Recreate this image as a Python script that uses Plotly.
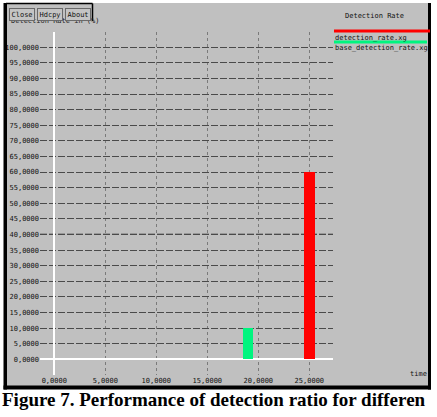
import plotly.graph_objects as go

# ---- data ----
series_names = ["detection_rate.xg", "base_detection_rate.xg"]
series_x = [[25], [19]]
series_y = [[60], [10]]
series_colors = ["#ff0000", "#00f57f"]
x_tick_vals = [0, 5, 10, 15, 20, 25]
x_tick_text = ["0,0000", "5,0000", "10,0000", "15,0000", "20,0000", "25,0000"]
y_tick_vals = [0, 5, 10, 15, 20, 25, 30, 35, 40, 45, 50, 55, 60, 65, 70, 75, 80, 85, 90, 95, 100]
y_tick_text = ["0,0000", "5,0000", "10,0000", "15,0000", "20,0000", "25,0000", "30,0000",
               "35,0000", "40,0000", "45,0000", "50,0000", "55,0000", "60,0000", "65,0000",
               "70,0000", "75,0000", "80,0000", "85,0000", "90,0000", "95,0000", "100,0000"]
chart_title = "Detection Rate"
y_title = "Detection Rate in (%)"
x_title = "time"
buttons = ["Close", "Hdcpy", "About"]
caption = "Figure 7. Performance of detection ratio for differen"

W, H = 437, 417
def X(p):
    return p / W
def Y(p):
    return 1 - p / H

MONO = "DejaVu Sans Mono"
bar_widths = [1.1, 1.05]

fig = go.Figure()
for name, xs, ys, col, wd in zip(series_names, series_x, series_y, series_colors, bar_widths):
    fig.add_trace(go.Bar(x=xs, y=ys, name=name, marker=dict(color=col, line=dict(width=0)),
                         width=wd, showlegend=False))

shapes = []
# grey window
shapes.append(dict(type="rect", xref="paper", yref="paper", x0=X(6), x1=X(429), y0=Y(387), y1=Y(3),
                   fillcolor="#c0c0c0", line=dict(width=0), layer="below"))
# darker line at 40
shapes.append(dict(type="line", xref="paper", yref="y", x0=X(40), x1=X(333), y0=40, y1=40,
                   line=dict(color="#222", width=1.3, dash="7px,2px"), layer="below"))
# black borders
for (a, b, c, d) in [(3.5, 7, 3, 389.5), (428, 431, 3, 389.5), (3.5, 431, 385.5, 389.5)]:
    shapes.append(dict(type="rect", xref="paper", yref="paper", x0=X(a), x1=X(b), y0=Y(d), y1=Y(c),
                       fillcolor="#000", line=dict(width=0), layer="above"))
# button panel frame
shapes.append(dict(type="line", xref="paper", yref="paper", x0=X(6), x1=X(92.5), y0=Y(3.5), y1=Y(3.5),
                   line=dict(color="#000", width=1.5), layer="above"))
shapes.append(dict(type="line", xref="paper", yref="paper", x0=X(92.5), x1=X(92.5), y0=Y(3.5), y1=Y(21),
                   line=dict(color="#000", width=1.5), layer="above"))
# legend lines
legend_y = [31, 42]
legend_x1 = [430, 427]
for col, ly, lx1 in zip(series_colors, legend_y, legend_x1):
    shapes.append(dict(type="line", xref="paper", yref="paper", x0=X(334), x1=X(lx1), y0=Y(ly), y1=Y(ly),
                       line=dict(color=col, width=3), layer="above"))

annotations = []
# y title (partly hidden by buttons)
annotations.append(dict(text=y_title, xref="paper", yref="paper", x=X(9), y=Y(21), xanchor="left",
                        yanchor="middle", showarrow=False, font=dict(family=MONO, size=7, color="#222")))
# buttons
btn_x = [9, 37, 65]
for t, bx in zip(buttons, btn_x):
    annotations.append(dict(text=t, xref="paper", yref="paper", x=X(bx), y=Y(8), xanchor="left",
                            yanchor="top", showarrow=False, bgcolor="#c4c4c4", bordercolor="#6a6a6a",
                            borderwidth=1, borderpad=1.5, font=dict(family=MONO, size=7, color="#111")))
# title
annotations.append(dict(text=chart_title, xref="paper", yref="paper", x=X(374), y=Y(16), xanchor="center",
                        yanchor="middle", showarrow=False, font=dict(family=MONO, size=7, color="#111")))
# legend texts
legend_text_y = [37.5, 48]
for name, ty in zip(series_names, legend_text_y):
    annotations.append(dict(text=name, xref="paper", yref="paper", x=X(333), y=Y(ty), xanchor="left",
                            yanchor="middle", showarrow=False, font=dict(family=MONO, size=7, color="#111")))
# x title
annotations.append(dict(text=x_title, xref="paper", yref="paper", x=X(429), y=Y(374), xanchor="right",
                        yanchor="middle", showarrow=False, font=dict(family=MONO, size=7, color="#111")))
# caption
annotations.append(dict(text="<b>" + caption + "</b>", xref="paper", yref="paper", x=X(0), y=Y(399),
                        xanchor="left", yanchor="middle", showarrow=False,
                        font=dict(family="Liberation Serif", size=19, color="#000")))

fig.update_layout(
    width=W, height=H, margin=dict(l=0, r=0, t=0, b=0, pad=0),
    paper_bgcolor="#ffffff", plot_bgcolor="#c0c0c0",
    shapes=shapes, annotations=annotations, bargap=0,
    xaxis=dict(domain=[X(40), X(333)], range=[-1.40, 27.32], tickmode="array",
               tickvals=x_tick_vals, ticktext=x_tick_text, showgrid=True, gridcolor="#7a7a7a",
               gridwidth=1, griddash="3px,3px", zeroline=True, zerolinecolor="#ffffff",
               zerolinewidth=1.5, showline=False, ticks="", automargin=False,
               tickfont=dict(family=MONO, size=7, color="#111"), ticklabelstandoff=0),
    yaxis=dict(domain=[Y(375), Y(32)], range=[-5.03, 104.87], tickmode="array",
               tickvals=y_tick_vals, ticktext=y_tick_text, showgrid=True, gridcolor="#4a4a4a",
               gridwidth=1, griddash="7px,2px", zeroline=True, zerolinecolor="#ffffff",
               zerolinewidth=1.5, showline=False, ticks="", automargin=False,
               tickfont=dict(family=MONO, size=7, color="#111"), ticklabelstandoff=0),
)

fig.write_html("out.html")
